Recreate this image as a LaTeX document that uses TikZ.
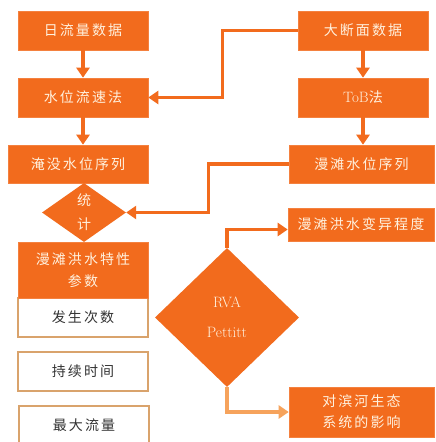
\documentclass[tikz,border=0pt]{standalone}
\usepackage{fontspec}
\newfontfamily\cjk{Noto Sans CJK SC}[LetterSpace=15]
\usetikzlibrary{arrows.meta,shapes.geometric,calc}
\definecolor{org}{HTML}{F26B1D}
\definecolor{orgl}{HTML}{F6A35C}
\definecolor{cream}{HTML}{FFF1DE}
\definecolor{tanb}{HTML}{D9A36C}
\begin{document}
\begin{tikzpicture}[x=1pt,y=-1pt,
  obox/.style={rectangle, fill=org, draw=org!85!white, line width=0.6pt, inner sep=0pt,
    text=cream, font=\fontsize{14}{22}\selectfont\cjk, align=center},
  wbox/.style={rectangle, fill=white, draw=tanb, line width=1.2pt, inner sep=0pt,
    text=black!80, font=\fontsize{14}{22}\selectfont\cjk, align=center},
  odia/.style={diamond, fill=org, draw=none, inner sep=0pt, text=cream, align=center},
  conn/.style={draw=org, line width=3.5pt, -{Triangle[width=13pt,length=10pt]}},
  connl/.style={draw=orgl, line width=3.5pt, -{Triangle[width=13pt,length=10pt]}},
]
\useasboundingbox[fill=white] (0,0) rectangle (436,442);

% left column
\node[obox, minimum width=130pt, minimum height=39pt] (b1) at (83,30.5) {日流量数据};
\node[obox, minimum width=130pt, minimum height=39pt] (b2) at (83,97.5) {水位流速法};
\node[obox, minimum width=140pt, minimum height=38pt] (b3) at (78,164) {淹没水位序列};
\node[odia, minimum width=84pt, minimum height=59pt, font=\fontsize{14}{24}\selectfont\cjk] (d1) at (84,212.5) {统\\计};
\node[wbox, minimum width=130pt, minimum height=39pt] (w1) at (83,317.5) {发生次数};
\node[obox, minimum width=130pt, minimum height=56pt] (hdr) at (83,270) {漫滩洪水特性\\参数};
\node[wbox, minimum width=130pt, minimum height=39pt] (w2) at (83,371.5) {持续时间};
\node[wbox, minimum width=130pt, minimum height=38pt] (w3) at (84,425) {最大流量};

% right column
\node[obox, minimum width=130pt, minimum height=39pt] (dm) at (363,30.5) {大断面数据};
\node[obox, minimum width=130pt, minimum height=39pt] (tob) at (363,97.5) {\fontspec{Latin Modern Roman}\fontsize{15}{22}\selectfont ToB{\cjk\fontsize{14}{22}\selectfont 法}};
\node[obox, minimum width=145pt, minimum height=38pt] (mt) at (361.5,164) {漫滩水位序列};
\node[obox, minimum width=146pt, minimum height=33pt] (bv) at (361,224.5) {漫滩洪水变异程度};
\node[odia, minimum width=144pt, minimum height=139pt, font=\fontsize{15}{30}\selectfont] (rva) at (227,317.5) {RVA\\Pettitt};
\node[obox, minimum width=145pt, minimum height=50pt, font=\fontsize{14}{21}\selectfont\cjk] (eco) at (361.5,412) {对滨河生态\\系统的影响};

% connectors
\draw[conn] (b1.south) -- (b2.north);
\draw[conn] (b2.south) -- (b2.south |- b3.north);
\draw[conn] (dm.south) -- (tob.north);
\draw[conn] (tob.south) -- (tob.south |- mt.north);
\draw[conn] (dm.west) -- ++(-75,0) |- (b2.east);
\draw[conn] (mt.west) -- ++(-80,0) |- (d1.east);
\draw[conn] (rva.north) |- ([yshift=-5pt]bv.west);
\draw[connl] (rva.south) |- (eco.west);
\end{tikzpicture}
\end{document}
